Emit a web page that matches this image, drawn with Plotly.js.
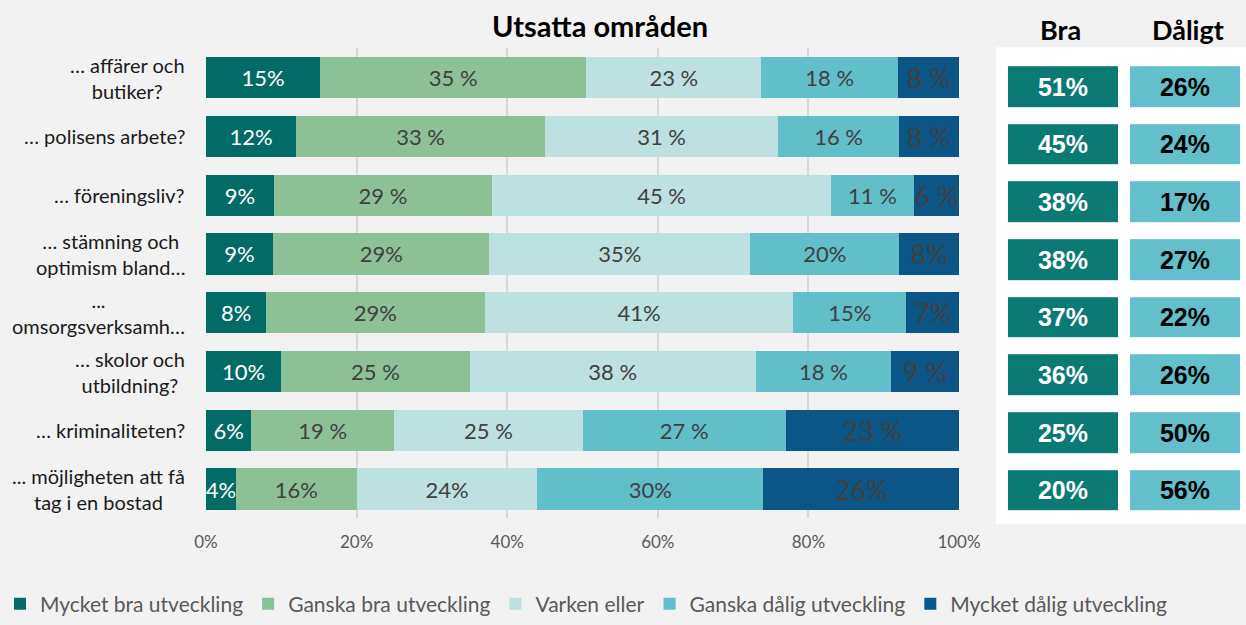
<!DOCTYPE html>
<html><head><meta charset="utf-8">
<script src="https://cdn.plot.ly/plotly-3.0.1.min.js"></script>
<style>html,body{margin:0;padding:0;background:#f2f2f2;}#chart{width:1246px;height:625px;}</style>
</head><body><div id="chart"></div>
<script>
const categories = [
  "… affärer och<br>butiker?",
  "… polisens arbete?",
  "… föreningsliv?",
  "… stämning och<br>optimism bland…",
  "...<br>omsorgsverksamh…",
  "… skolor och<br>utbildning?",
  "… kriminaliteten?",
  "... möjligheten att få<br>tag i en bostad"
];
const seriesNames = ["Mycket bra utveckling","Ganska bra utveckling","Varken eller","Ganska dålig utveckling","Mycket dålig utveckling"];
const mycketBra   = [15,12, 9, 9, 8,10, 6, 4];
const ganskaBra   = [35,33,29,29,29,25,19,16];
const varkenEller = [23,31,45,35,41,38,25,24];
const ganskaDalig = [18,16,11,20,15,18,27,30];
const mycketDalig = [ 8, 8, 6, 8, 7, 9,23,26];
const labelHasSpace = [true,true,true,false,false,true,true,false];
const summaryCols = ["Bra","Dåligt"];
const bra    = [51,45,38,38,37,36,25,20];
const daligt = [26,24,17,27,22,26,50,56];
const xTicks = [0,20,40,60,80,100];
const xTickText = ["0%","20%","40%","60%","80%","100%"];

const colors = ["#036b66","#8cc198","#bde0e0","#62bec9","#0b5686"];
const series = [mycketBra, ganskaBra, varkenEller, ganskaDalig, mycketDalig];
const FONT = "Lato, 'Open Sans', sans-serif";
const BOXFONT = "'Liberation Sans', Arial, sans-serif";

const traces = series.map((vals, i) => ({
  type: "bar",
  orientation: "h",
  name: seriesNames[i],
  y: categories,
  x: vals,
  marker: {color: colors[i], line: {width: 0}},
  text: vals.map((v, j) => (i > 0 && labelHasSpace[j]) ? v + " %" : v + "%"),
  textposition: "inside",
  insidetextanchor: "middle",
  constraintext: "none",
  textangle: 0,
  textfont: {family: FONT, size: i === 4 ? 27 : 22, color: i === 0 ? "#ffffff" : "#404040"},
  hoverinfo: "skip",
  xaxis: "x", yaxis: "y"
}));

// summary boxes: one heatmap per column (other column left empty)
function boxTrace(colIdx, vals, color, textColor) {
  return {
    type: "heatmap",
    x: summaryCols,
    y: categories,
    z: vals.map(v => colIdx === 0 ? [v, null] : [null, v]),
    text: vals.map(v => colIdx === 0 ? [v + "%", ""] : ["", v + "%"]),
    texttemplate: "%{text}",
    colorscale: [[0, color], [1, color]],
    showscale: false,
    xgap: 12, ygap: 17,
    textfont: {family: BOXFONT, size: 25, color: textColor, weight: "bold"},
    hoverinfo: "skip",
    showlegend: false,
    xaxis: "x2", yaxis: "y2"
  };
}
traces.push(boxTrace(0, bra, "#0b7a75", "#ffffff"));
traces.push(boxTrace(1, daligt, "#62bfcb", "#000000"));

const W = 1246, H = 625;
const px = v => v / W, py = v => 1 - v / H;

const annotations = categories.map(c => ({
  xref: "paper", yref: "y", x: px(187), y: c,
  xanchor: "right", yanchor: "middle", align: "center",
  text: c, showarrow: false,
  font: {family: FONT, size: 20, color: "#1a1a1a"}
}));
summaryCols.forEach((c, i) => annotations.push({
  xref: "paper", yref: "paper", x: px(i === 0 ? 1060 : 1188), y: py(30),
  xanchor: "center", yanchor: "middle", text: c, showarrow: false,
  font: {family: FONT, size: 27, color: "#000", weight: "bold"}
}));

const layout = {
  width: W, height: H,
  margin: {l:0, r:0, t:0, b:0},
  paper_bgcolor: "#f2f2f2",
  plot_bgcolor: "rgba(0,0,0,0)",
  barmode: "stack",
  barnorm: "percent",
  bargap: 0.3,
  title: {text: "<b>Utsatta områden</b>", x: px(600), xanchor: "center", y: py(27), yanchor: "middle",
          font: {family: FONT, size: 29, color: "#000"}},
  xaxis: {domain: [px(206), px(959)], range: [0, 100], tickvals: xTicks, ticktext: xTickText,
          showgrid: true, gridcolor: "#d9d9d9", gridwidth: 2, zeroline: false, showline: false,
          ticks: "", ticklabelstandoff: 12, tickfont: {family: FONT, size: 17, color: "#595959"}, fixedrange: true},
  yaxis: {domain: [py(526), py(49)], autorange: "reversed", showticklabels: false, showgrid: false,
          zeroline: false, showline: false, ticks: "", fixedrange: true},
  xaxis2: {domain: [px(1002), 1], anchor: "y2", showticklabels: false, showgrid: false, zeroline: false,
           showline: false, ticks: "", fixedrange: true},
  yaxis2: {domain: [py(527), py(59)], anchor: "x2", autorange: "reversed", showticklabels: false,
           showgrid: false, zeroline: false, showline: false, ticks: "", fixedrange: true},
  shapes: [{type: "rect", xref: "paper", yref: "paper", x0: px(996), x1: 1, y0: py(532), y1: py(48),
            fillcolor: "#ffffff", line: {width: 0}, layer: "below"}],
  annotations: annotations,
  showlegend: true,
  legend: {orientation: "h", x: 0, xanchor: "left", y: py(613), yanchor: "middle",
           font: {family: FONT, size: 21, color: "#595959"}, bgcolor: "rgba(0,0,0,0)",
           traceorder: "normal", itemclick: false, itemdoubleclick: false}
};

Plotly.newPlot("chart", traces, layout, {displayModeBar: false, staticPlot: true});
</script>
</body></html>
